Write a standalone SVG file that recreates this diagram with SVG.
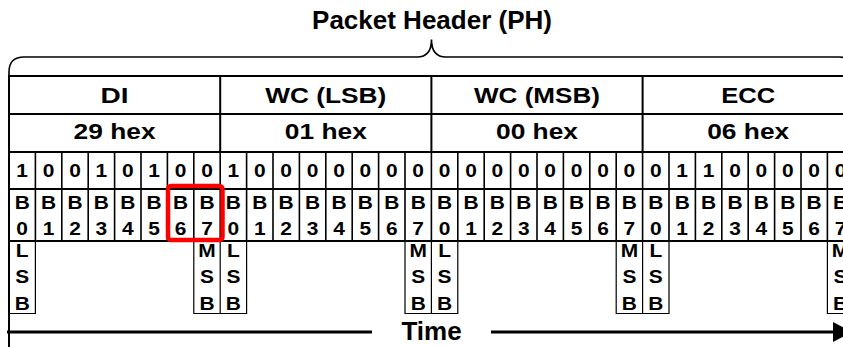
<svg xmlns="http://www.w3.org/2000/svg" width="843" height="347" viewBox="0 0 843 347">
<style>
.t{font-family:"Liberation Sans",Arial,sans-serif;font-weight:bold;fill:#000;text-anchor:middle}
.h{font-size:21.5px}
.s{font-size:18.7px}
.s text{transform-box:fill-box;transform-origin:center;transform:scaleX(1.12)}
.ln{stroke:#000;stroke-width:2;fill:none}
.bl{stroke:#000;stroke-width:1.6;fill:none}
.bx{stroke:#000;stroke-width:1.2;fill:none}
.br{stroke:#000;stroke-width:1.6;fill:none}
</style>
<rect width="843" height="347" fill="#fff"/>
<text class="t" x="432" y="29" style="font-size:26px">Packet Header (PH)</text>
<path class="br" d="M9 76 L9 72 Q9 57 24 57 L417 57 C427 57 431.5 50 431.5 39.5 C431.5 50 436 57 446 57 L839 57 Q854 57 854 72 L854 76"/>
<g id="grid">
<path class="ln" d="M9 76H843M9 114H843M9 152H843M9 189H843M9 241H843M9 75V347M220.2 76V152M431.4 76V152M642.6 76V152"/>
<path class="bl" d="M35.4 152V241M61.8 152V241M88.2 152V241M114.6 152V241M141 152V241M167.4 152V241M193.8 152V241M220.2 152V241M246.6 152V241M273 152V241M299.4 152V241M325.8 152V241M352.2 152V241M378.6 152V241M405 152V241M431.4 152V241M457.8 152V241M484.2 152V241M510.6 152V241M537 152V241M563.4 152V241M589.8 152V241M616.2 152V241M642.6 152V241M669 152V241M695.4 152V241M721.8 152V241M748.2 152V241M774.6 152V241M801 152V241M827.4 152V241"/>
</g>
<g id="field-DI">
<text class="t h" x="114.6" y="102.5" textLength="28" lengthAdjust="spacingAndGlyphs">DI</text>
<text class="t h" x="114.6" y="139" textLength="82" lengthAdjust="spacingAndGlyphs">29 hex</text>
<g class="t s">
<text x="22.2" y="177">1</text><text x="48.6" y="177">0</text><text x="75" y="177">0</text><text x="101.4" y="177">1</text><text x="127.8" y="177">0</text><text x="154.2" y="177">1</text><text x="180.6" y="177">0</text><text x="207" y="177">0</text>
<text x="22.2" y="209.5">B</text><text x="48.6" y="209.5">B</text><text x="75" y="209.5">B</text><text x="101.4" y="209.5">B</text><text x="127.8" y="209.5">B</text><text x="154.2" y="209.5">B</text><text x="180.6" y="209.5">B</text><text x="207" y="209.5">B</text>
<text x="22.2" y="235">0</text><text x="48.6" y="235">1</text><text x="75" y="235">2</text><text x="101.4" y="235">3</text><text x="127.8" y="235">4</text><text x="154.2" y="235">5</text><text x="180.6" y="235">6</text><text x="207" y="235">7</text>
<text x="22.2" y="257.5">L</text><text x="22.2" y="283.5">S</text><text x="22.2" y="310">B</text>
<text x="207" y="257.5">M</text><text x="207" y="283.5">S</text><text x="207" y="310">B</text>
</g>
<path class="bx" d="M9 313.5H35.4V241M193.8 241V313.5H220.2V241"/>
</g>
<g id="field-WC-LSB">
<text class="t h" x="325.8" y="102.5" textLength="121" lengthAdjust="spacingAndGlyphs">WC (LSB)</text>
<text class="t h" x="325.8" y="139" textLength="82" lengthAdjust="spacingAndGlyphs">01 hex</text>
<g class="t s">
<text x="233.4" y="177">1</text><text x="259.8" y="177">0</text><text x="286.2" y="177">0</text><text x="312.6" y="177">0</text><text x="339" y="177">0</text><text x="365.4" y="177">0</text><text x="391.8" y="177">0</text><text x="418.2" y="177">0</text>
<text x="233.4" y="209.5">B</text><text x="259.8" y="209.5">B</text><text x="286.2" y="209.5">B</text><text x="312.6" y="209.5">B</text><text x="339" y="209.5">B</text><text x="365.4" y="209.5">B</text><text x="391.8" y="209.5">B</text><text x="418.2" y="209.5">B</text>
<text x="233.4" y="235">0</text><text x="259.8" y="235">1</text><text x="286.2" y="235">2</text><text x="312.6" y="235">3</text><text x="339" y="235">4</text><text x="365.4" y="235">5</text><text x="391.8" y="235">6</text><text x="418.2" y="235">7</text>
<text x="233.4" y="257.5">L</text><text x="233.4" y="283.5">S</text><text x="233.4" y="310">B</text>
<text x="418.2" y="257.5">M</text><text x="418.2" y="283.5">S</text><text x="418.2" y="310">B</text>
</g>
<path class="bx" d="M220.2 313.5H246.6V241M405 241V313.5H431.4V241"/>
</g>
<g id="field-WC-MSB">
<text class="t h" x="537" y="102.5" textLength="126" lengthAdjust="spacingAndGlyphs">WC (MSB)</text>
<text class="t h" x="537" y="139" textLength="82" lengthAdjust="spacingAndGlyphs">00 hex</text>
<g class="t s">
<text x="444.6" y="177">0</text><text x="471" y="177">0</text><text x="497.4" y="177">0</text><text x="523.8" y="177">0</text><text x="550.2" y="177">0</text><text x="576.6" y="177">0</text><text x="603" y="177">0</text><text x="629.4" y="177">0</text>
<text x="444.6" y="209.5">B</text><text x="471" y="209.5">B</text><text x="497.4" y="209.5">B</text><text x="523.8" y="209.5">B</text><text x="550.2" y="209.5">B</text><text x="576.6" y="209.5">B</text><text x="603" y="209.5">B</text><text x="629.4" y="209.5">B</text>
<text x="444.6" y="235">0</text><text x="471" y="235">1</text><text x="497.4" y="235">2</text><text x="523.8" y="235">3</text><text x="550.2" y="235">4</text><text x="576.6" y="235">5</text><text x="603" y="235">6</text><text x="629.4" y="235">7</text>
<text x="444.6" y="257.5">L</text><text x="444.6" y="283.5">S</text><text x="444.6" y="310">B</text>
<text x="629.4" y="257.5">M</text><text x="629.4" y="283.5">S</text><text x="629.4" y="310">B</text>
</g>
<path class="bx" d="M431.4 313.5H457.8V241M616.2 241V313.5H642.6V241"/>
</g>
<g id="field-ECC">
<text class="t h" x="748.2" y="102.5" textLength="54" lengthAdjust="spacingAndGlyphs">ECC</text>
<text class="t h" x="748.2" y="139" textLength="82" lengthAdjust="spacingAndGlyphs">06 hex</text>
<g class="t s">
<text x="655.8" y="177">0</text><text x="682.2" y="177">1</text><text x="708.6" y="177">1</text><text x="735" y="177">0</text><text x="761.4" y="177">0</text><text x="787.8" y="177">0</text><text x="814.2" y="177">0</text><text x="840.6" y="177">0</text>
<text x="655.8" y="209.5">B</text><text x="682.2" y="209.5">B</text><text x="708.6" y="209.5">B</text><text x="735" y="209.5">B</text><text x="761.4" y="209.5">B</text><text x="787.8" y="209.5">B</text><text x="814.2" y="209.5">B</text><text x="840.6" y="209.5">B</text>
<text x="655.8" y="235">0</text><text x="682.2" y="235">1</text><text x="708.6" y="235">2</text><text x="735" y="235">3</text><text x="761.4" y="235">4</text><text x="787.8" y="235">5</text><text x="814.2" y="235">6</text><text x="840.6" y="235">7</text>
<text x="655.8" y="257.5">L</text><text x="655.8" y="283.5">S</text><text x="655.8" y="310">B</text>
<text x="840.6" y="257.5">M</text><text x="840.6" y="283.5">S</text><text x="840.6" y="310">B</text>
</g>
<path class="bx" d="M642.6 313.5H669V241M827.4 241V313.5H853.8V241"/>
</g>
<rect id="highlight" x="168" y="186" width="54.5" height="54" rx="3" fill="none" stroke="#f00" stroke-width="4.5"/>
<g id="connectors">
<path d="M7 332H372M491 332H836" stroke="#000" stroke-width="3" fill="none"/>
<polygon points="833,322 852,332 833,342" fill="#000"/>
</g>
<text class="t" x="431.5" y="339.5" style="font-size:26px">Time</text>
</svg>
